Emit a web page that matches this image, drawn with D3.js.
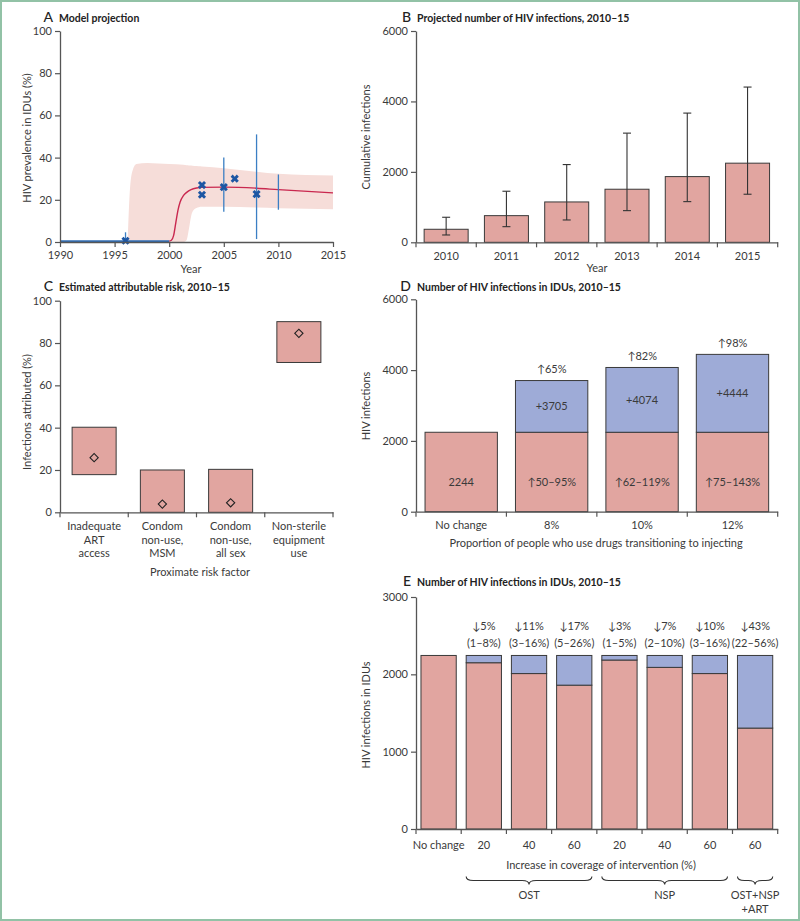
<!DOCTYPE html>
<html><head><meta charset="utf-8">
<script src="https://cdn.jsdelivr.net/npm/d3@7"></script>
<style>
html,body{margin:0;padding:0;background:#fff;}
svg{display:block;font-family:Lato,"Open Sans",sans-serif;}
</style></head>
<body>
<svg id="chart" width="800" height="921"></svg>
<script>
// ---------- DATA ----------
// Panel A
const aXTicks = [1990, 1995, 2000, 2005, 2010, 2015];
const aYTicks = [0, 20, 40, 60, 80, 100];
const ciYear  = [1996.2, 1996.35, 1996.6, 1997, 1998, 2000, 2001.3, 2001.6, 2001.8, 2002, 2002.3, 2002.7, 2003, 2005, 2008, 2010, 2015];
const ciUpper = [0, 20, 33, 37, 37.5, 37, 36.6, 36.4, 36.3, 36.2, 36, 35.9, 35.8, 35, 33.3, 32.3, 31.5];
const ciLower = [0, 0, 0, 0, 0, 0, 0, 1, 6, 12, 15.5, 16.5, 16.7, 16.7, 16.3, 16, 15.5];
const fitYear = [2000, 2000.2, 2000.4, 2000.6, 2000.8, 2001, 2001.3, 2001.6, 2002, 2002.5, 2003, 2005, 2008, 2010, 2015];
const fitPrev = [0.4, 0.8, 3, 9, 15, 19, 22, 23.5, 24.8, 25.6, 25.9, 26, 25.5, 24.8, 23.3];
const preYear = [1990, 2000];
const prePrev = [0.4, 0.4];
const obsYear = [1996, 2003, 2003, 2005, 2006, 2008];
const obsPrev = [0.6, 27, 22.4, 26, 30, 22.7];
const errYear = [1996, 2005, 2008, 2010];
const errLow  = [0, 14.3, 1.4, 15.3];
const errHigh = [4.6, 40, 51, 32];

// Panel B
const bYears  = ["2010", "2011", "2012", "2013", "2014", "2015"];
const bMedian = [370, 757, 1146, 1507, 1866, 2247];
const bLow    = [208, 444, 634, 899, 1155, 1365];
const bHigh   = [711, 1450, 2207, 3100, 3669, 4408];
const bYTicks = [0, 2000, 4000, 6000];

// Panel C
const cCats   = ["Inadequate\nART\naccess", "Condom\nnon-use,\nMSM", "Condom\nnon-use,\nall sex", "Non-sterile\nequipment\nuse"];
const cLow    = [17.8, 0, 0, 70.8];
const cHigh   = [40.2, 20, 20.3, 90.1];
const cPoint  = [25.8, 3.9, 4.5, 84.6];
const cYTicks = [0, 20, 40, 60, 80, 100];

// Panel D
const dCats      = ["No change", "8%", "10%", "12%"];
const dBase      = [2244, 2244, 2244, 2244];
const dTotal     = [2244, 3705, 4074, 4444];
const dRise      = ["", "↑65%", "↑82%", "↑98%"];
const dAddLabel  = ["", "+3705", "+4074", "+4444"];
const dBaseLabel = ["2244", "↑50–95%", "↑62–119%", "↑75–143%"];
const dYTicks    = [0, 2000, 4000, 6000];

// Panel E
const eCats      = ["No change", "OST 20", "OST 40", "OST 60", "NSP 20", "NSP 40", "NSP 60", "ALL 60"];
const eTickText  = ["No change", "20", "40", "60", "20", "40", "60", "60"];
const eTotal     = [2244, 2244, 2244, 2244, 2244, 2244, 2244, 2244];
const eRemaining = [2244, 2150, 2010, 1860, 2185, 2090, 2010, 1305];
const eReduction = ["", "↓5%", "↓11%", "↓17%", "↓3%", "↓7%", "↓10%", "↓43%"];
const eRange     = ["", "(1–8%)", "(3–16%)", "(5–26%)", "(1–5%)", "(2–10%)", "(3–16%)", "(22–56%)"];
const eYTicks    = [0, 1000, 2000, 3000];
const eGroupName = [["OST"], ["NSP"], ["OST+NSP", "+ART"]];
const eGroupFrom = ["OST 20", "NSP 20", "ALL 60"];
const eGroupTo   = ["OST 60", "NSP 60", "ALL 60"];

// ---------- STYLE ----------
const RED = "#e1a5a0", BLUE = "#9eabd7", BAR_STROKE = "#3a3a3a";
const AXIS = "#555", TXT = "#3a3a3a", FS = 11;

const svg = d3.select("#chart");
svg.append("rect").attr("x", 1).attr("y", 1).attr("width", 798).attr("height", 919)
  .attr("fill", "#fff").attr("stroke", "#92c2a6").attr("stroke-width", 2);

function styleAxis(g) {
  g.attr("font-family", null).attr("font-size", null);
  g.select(".domain").attr("stroke", AXIS).attr("stroke-width", 1.3);
  g.selectAll(".tick line").attr("stroke", AXIS).attr("stroke-width", 1.2);
  g.selectAll(".tick text").attr("fill", TXT).attr("font-size", FS);
}
function title(letter, text, x, y) {
  svg.append("text").attr("x", x - 6).attr("y", y).attr("text-anchor", "end")
    .attr("font-size", 14).attr("font-weight", 500).attr("fill", "#222").text(letter);
  svg.append("text").attr("x", x).attr("y", y).attr("font-size", 10.5)
    .attr("font-weight", 700).attr("fill", "#222").text(text);
}
function yTitle(text, x, y) {
  svg.append("text").attr("transform", `translate(${x},${y}) rotate(-90)`)
    .attr("text-anchor", "middle").attr("font-size", FS).attr("fill", TXT).text(text);
}
function xTitle(text, x, y) {
  svg.append("text").attr("x", x).attr("y", y).attr("text-anchor", "middle")
    .attr("font-size", FS).attr("fill", TXT).text(text);
}
function yAxis(scale, ticks, x) {
  const g = svg.append("g").attr("transform", `translate(${x},0)`)
    .call(d3.axisLeft(scale).tickValues(ticks).tickFormat(d3.format("d"))
      .tickSize(5).tickPadding(3).tickSizeOuter(0));
  styleAxis(g);
  return g;
}
function bandAxis(scale, y, pad, fmt) {
  const g = svg.append("g").attr("transform", `translate(0,${y})`)
    .call(d3.axisBottom(scale).tickSize(0).tickPadding(pad).tickFormat(fmt || (d => d)));
  styleAxis(g);
  const r = scale.range(), n = scale.domain().length, step = scale.step();
  g.append("g").selectAll("line").data(d3.range(n + 1)).join("line")
    .attr("x1", i => r[0] + i * step).attr("x2", i => r[0] + i * step)
    .attr("y1", 0).attr("y2", 5).attr("stroke", AXIS).attr("stroke-width", 1.2);
  return g;
}

// ---------- PANEL A ----------
(function () {
  const x = d3.scaleLinear().domain([1990, 2015]).range([60, 333]);
  const y = d3.scaleLinear().domain([0, 100]).range([242, 31]);
  const area = d3.area().x((d, i) => x(ciYear[i])).y0((d, i) => y(ciLower[i]))
    .y1((d, i) => y(ciUpper[i])).curve(d3.curveMonotoneX);
  svg.append("path").attr("d", area(ciYear)).attr("fill", "#f6ddd9");
  const line = d3.line().curve(d3.curveMonotoneX);
  svg.append("path").attr("d", line(preYear.map((d, i) => [x(d), y(prePrev[i])])))
    .attr("fill", "none").attr("stroke", "#2f6db5").attr("stroke-width", 1.6);
  svg.append("path").attr("d", line(fitYear.map((d, i) => [x(d), y(fitPrev[i])])))
    .attr("fill", "none").attr("stroke", "#c9284f").attr("stroke-width", 1.4);
  svg.append("g").selectAll("line").data(errYear).join("line")
    .attr("x1", d => x(d)).attr("x2", d => x(d))
    .attr("y1", (d, i) => y(errLow[i])).attr("y2", (d, i) => y(errHigh[i]))
    .attr("stroke", "#3b7fc4").attr("stroke-width", 1.3);
  const sym = d3.symbol(d3.symbolCross, 42);
  svg.append("g").selectAll("path").data(obsYear).join("path")
    .attr("d", sym).attr("fill", "#1d56a3")
    .attr("transform", (d, i) => `translate(${x(d)},${y(obsPrev[i])}) rotate(45)`);
  yAxis(y, aYTicks, 60);
  const gx = svg.append("g").attr("transform", "translate(0,242)")
    .call(d3.axisBottom(x).tickValues(aXTicks).tickFormat(d3.format("d"))
      .tickSize(5).tickPadding(4).tickSizeOuter(0));
  styleAxis(gx);
  title("A", "Model projection", 59, 22);
  yTitle("HIV prevalence in IDUs (%)", 31, 138);
  xTitle("Year", 191, 273);
})();

// ---------- PANEL B ----------
(function () {
  const x = d3.scaleBand().domain(bYears).range([416, 777.7]).paddingInner(0.27).paddingOuter(0.135);
  const y = d3.scaleLinear().domain([0, 6000]).range([242.3, 31]);
  svg.append("g").selectAll("rect").data(bYears).join("rect")
    .attr("x", d => x(d)).attr("width", x.bandwidth())
    .attr("y", (d, i) => y(bMedian[i])).attr("height", (d, i) => y(0) - y(bMedian[i]))
    .attr("fill", RED).attr("stroke", BAR_STROKE).attr("stroke-width", 1);
  const eb = svg.append("g").attr("stroke", "#333").attr("stroke-width", 1.1);
  bYears.forEach((d, i) => {
    const cx = x(d) + x.bandwidth() / 2;
    eb.append("line").attr("x1", cx).attr("x2", cx).attr("y1", y(bLow[i])).attr("y2", y(bHigh[i]));
    eb.append("line").attr("x1", cx - 4).attr("x2", cx + 4).attr("y1", y(bLow[i])).attr("y2", y(bLow[i]));
    eb.append("line").attr("x1", cx - 4).attr("x2", cx + 4).attr("y1", y(bHigh[i])).attr("y2", y(bHigh[i]));
  });
  yAxis(y, bYTicks, 416);
  bandAxis(x, 242.3, 10);
  title("B", "Projected number of HIV infections, 2010–15", 417, 22);
  yTitle("Cumulative infections", 370, 137);
  xTitle("Year", 597, 272);
})();

// ---------- PANEL C ----------
(function () {
  const x = d3.scaleBand().domain(cCats).range([60, 333]).paddingInner(0.355).paddingOuter(0.1775);
  const y = d3.scaleLinear().domain([0, 100]).range([512.3, 300.7]);
  svg.append("g").selectAll("rect").data(cCats).join("rect")
    .attr("x", d => x(d)).attr("width", x.bandwidth())
    .attr("y", (d, i) => y(cHigh[i])).attr("height", (d, i) => y(cLow[i]) - y(cHigh[i]))
    .attr("fill", RED).attr("stroke", BAR_STROKE).attr("stroke-width", 1);
  const sym = d3.symbol(d3.symbolSquare, 34);
  svg.append("g").selectAll("path").data(cCats).join("path")
    .attr("d", sym).attr("fill", "none").attr("stroke", "#222").attr("stroke-width", 1.1)
    .attr("transform", (d, i) => `translate(${x(d) + x.bandwidth() / 2},${y(cPoint[i])}) rotate(45)`);
  yAxis(y, cYTicks, 60);
  const g = bandAxis(x, 512.3, 10, () => "");
  g.selectAll(".tick text").each(function (d) {
    const t = d3.select(this);
    d.split("\n").forEach((s, k) => {
      t.append("tspan").attr("x", 0).attr("dy", k === 0 ? "0.71em" : 13.5).text(s);
    });
  }).attr("dy", null);
  title("C", "Estimated attributable risk, 2010–15", 59, 291);
  yTitle("Infections attributed (%)", 31, 412);
  xTitle("Proximate risk factor", 200, 576);
})();

// ---------- PANEL D ----------
(function () {
  const x = d3.scaleBand().domain(dCats).range([416, 777.7]).paddingInner(0.2).paddingOuter(0.1);
  const y = d3.scaleLinear().domain([0, 6000]).range([511.7, 299.3]);
  const bw = x.bandwidth();
  svg.append("g").selectAll("rect").data(dCats).join("rect")
    .attr("x", d => x(d)).attr("width", bw)
    .attr("y", (d, i) => y(dBase[i])).attr("height", (d, i) => y(0) - y(dBase[i]))
    .attr("fill", RED).attr("stroke", BAR_STROKE).attr("stroke-width", 1);
  svg.append("g").selectAll("rect").data(dCats.filter((d, i) => dTotal[i] > dBase[i])).join("rect")
    .attr("x", d => x(d)).attr("width", bw)
    .attr("y", d => y(dTotal[dCats.indexOf(d)]))
    .attr("height", d => { const i = dCats.indexOf(d); return y(dBase[i]) - y(dTotal[i]); })
    .attr("fill", BLUE).attr("stroke", BAR_STROKE).attr("stroke-width", 1);
  const lab = svg.append("g").attr("text-anchor", "middle").attr("font-size", FS).attr("fill", TXT);
  dCats.forEach((d, i) => {
    const cx = x(d) + bw / 2;
    lab.append("text").attr("x", cx).attr("y", y(830)).attr("dy", "0.35em").text(dBaseLabel[i]);
    if (dAddLabel[i]) {
      lab.append("text").attr("x", cx).attr("y", (y(dBase[i]) + y(dTotal[i])) / 2).attr("dy", "0.35em").text(dAddLabel[i]);
      lab.append("text").attr("x", cx).attr("y", y(dTotal[i]) - 7.5).text(dRise[i]);
    }
  });
  yAxis(y, dYTicks, 416);
  bandAxis(x, 511.7, 10);
  title("D", "Number of HIV infections in IDUs, 2010–15", 417, 291);
  yTitle("HIV infections", 370, 406);
  xTitle("Proportion of people who use drugs transitioning to injecting", 596, 546.5);
})();

// ---------- PANEL E ----------
(function () {
  const x = d3.scaleBand().domain(eCats).range([416, 777.7]).paddingInner(0.22).paddingOuter(0.11);
  const y = d3.scaleLinear().domain([0, 3000]).range([829, 597]);
  const bw = x.bandwidth();
  svg.append("g").selectAll("rect").data(eCats).join("rect")
    .attr("x", d => x(d)).attr("width", bw)
    .attr("y", (d, i) => y(eRemaining[i])).attr("height", (d, i) => y(0) - y(eRemaining[i]))
    .attr("fill", RED).attr("stroke", BAR_STROKE).attr("stroke-width", 1);
  svg.append("g").selectAll("rect").data(eCats.filter((d, i) => eTotal[i] > eRemaining[i])).join("rect")
    .attr("x", d => x(d)).attr("width", bw)
    .attr("y", d => y(eTotal[eCats.indexOf(d)]))
    .attr("height", d => { const i = eCats.indexOf(d); return y(eRemaining[i]) - y(eTotal[i]); })
    .attr("fill", BLUE).attr("stroke", BAR_STROKE).attr("stroke-width", 1);
  const lab = svg.append("g").attr("text-anchor", "middle").attr("font-size", FS).attr("fill", TXT);
  eCats.forEach((d, i) => {
    if (!eReduction[i]) return;
    const cx = x(d) + bw / 2;
    lab.append("text").attr("x", cx).attr("y", y(eTotal[i]) - 25).text(eReduction[i]);
    lab.append("text").attr("x", cx).attr("y", y(eTotal[i]) - 8.3).text(eRange[i]);
  });
  yAxis(y, eYTicks, 416);
  bandAxis(x, 829, 12, d => eTickText[eCats.indexOf(d)]);
  title("E", "Number of HIV infections in IDUs, 2010–15", 417, 586);
  yTitle("HIV infections in IDUs", 370, 715);
  xTitle("Increase in coverage of intervention (%)", 601, 869);
  // braces
  const bg = svg.append("g");
  eGroupName.forEach((name, k) => {
    const x1 = x(eGroupFrom[k]), x2 = x(eGroupTo[k]) + bw, m = (x1 + x2) / 2;
    const yT = 876.5, yL = 880.5, yTip = 884.5, c = Math.min(7, (x2 - x1) / 5);
    const p = d3.path();
    p.moveTo(x1, yT);
    p.quadraticCurveTo(x1, yL, x1 + c, yL);
    p.lineTo(m - c, yL);
    p.quadraticCurveTo(m, yL, m, yTip);
    p.quadraticCurveTo(m, yL, m + c, yL);
    p.lineTo(x2 - c, yL);
    p.quadraticCurveTo(x2, yL, x2, yT);
    bg.append("path").attr("d", p.toString()).attr("fill", "none")
      .attr("stroke", "#333").attr("stroke-width", 1.1);
    name.forEach((s, j) => {
      bg.append("text").attr("x", m).attr("y", 898.5 + j * 14.5).attr("text-anchor", "middle")
        .attr("font-size", FS).attr("fill", TXT).text(s);
    });
  });
})();
</script>
</body></html>
